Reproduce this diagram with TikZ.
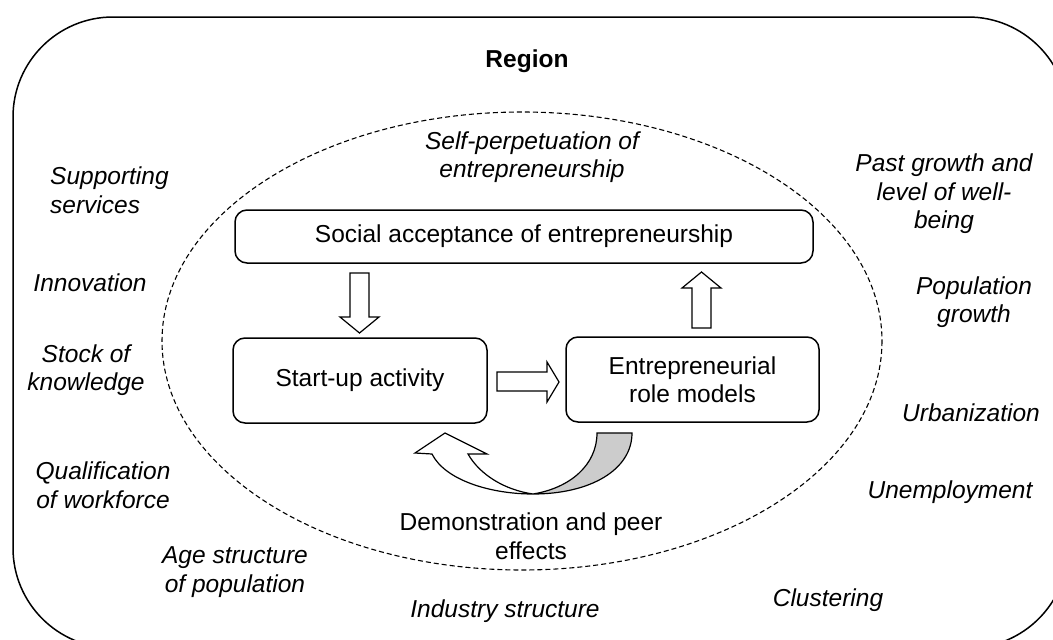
\documentclass[tikz,border=0pt]{standalone}
\usepackage{fontspec}
\setmainfont{Liberation Sans}

\tikzset{
  box/.style={draw, rounded corners=12pt, align=center, line width=1.5pt},
  factor/.style={font=\fontsize{24.5}{28.5}\selectfont\itshape, align=center, inner sep=0pt},
  blockarrow/.style={draw, fill=white, line width=1.2pt, line join=miter},
}

\begin{document}
\begin{tikzpicture}[x=1pt, y=-1pt, font=\fontsize{24.5}{28.5}\selectfont]
  \useasboundingbox (0,0) rectangle (1053,640);
  % region frame, runs off the page on the right and at the bottom
  \begin{scope}
    \clip (0,0) rectangle (1053,640);
    \draw[line width=1.5pt, rounded corners=100pt] (13,17) rectangle (1068,648);
  \end{scope}
  \draw[dash pattern=on 5pt off 3pt, line width=1.1pt] (522,341) ellipse [x radius=360, y radius=229];

  \node (region) at (527,61) {\bfseries Region};
  \node[factor] (selfperp) at (532,157) {Self-perpetuation of\\entrepreneurship};

  \node[box, minimum width=578pt, minimum height=53pt] (social) at (524,236.5) {Social acceptance of entrepreneurship};
  \node[box, minimum width=254pt, minimum height=85pt] (startup) at (360,380.5) {Start-up activity};
  \node[box, minimum width=253pt, minimum height=85pt] (role) at (692.5,379.5) {Entrepreneurial\\role models};
  \node[align=center, inner sep=0pt] (demo) at (531,536) {Demonstration and peer\\effects};

  % block arrows
  \draw[blockarrow] (350,273) -- (369,273) -- (369,317) -- (379,317) -- (359.5,333) -- (340,317) -- (350,317) -- cycle;
  \draw[blockarrow] (497,372) -- (547,372) -- (547,362) -- (559,382) -- (547,402) -- (547,391) -- (497,391) -- cycle;
  \draw[blockarrow] (692,328) -- (692,288) -- (682,288) -- (701.5,272) -- (721,288) -- (711,288) -- (711,328) -- cycle;

  % curved feedback arrow
  \draw[line width=1.2pt, fill=black!20] (597,433) -- (632,433) .. controls (632,470) and (590,494) .. (533,494)
    .. controls (570,488) and (597,465) .. cycle;
  \draw[line width=1.2pt, fill=white] (533,494) .. controls (490,494) and (445,480) .. (432,454) -- (415,453)
    -- (445,433) -- (487,454) -- (468,454) .. controls (480,475) and (505,490) .. cycle;

  % regional factors
  \node[factor, align=left, anchor=west] (support) at (50,190) {Supporting\\services};
  \node[factor] (innov) at (90,283) {Innovation};
  \node[factor] (stock) at (86,370) {Stock of\\knowledge};
  \node[factor] (qualif) at (103,485) {Qualification\\of workforce};
  \node[factor] (age) at (235,572) {Age structure\\of population};
  \node[factor] (industry) at (505,611) {Industry structure};
  \node[factor] (cluster) at (828,600) {Clustering};
  \node[factor] (unemp) at (950,492) {Unemployment};
  \node[factor] (urban) at (971,413) {Urbanization};
  \node[factor] (popgrowth) at (974,302) {Population\\growth};
  \node[factor] (pastgrowth) at (944,194) {Past growth and\\level of well-\\being};
\end{tikzpicture}
\end{document}
